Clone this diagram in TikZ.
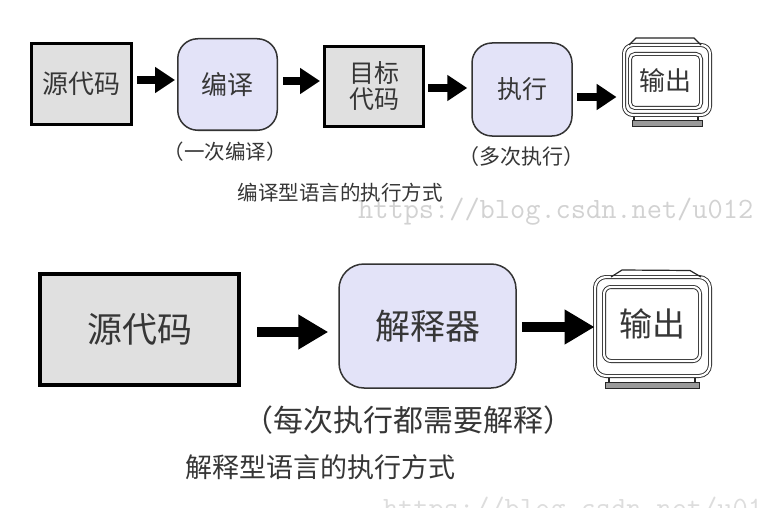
\documentclass[tikz,border=0pt]{standalone}
\usepackage{fontspec}
\setmainfont{Liberation Sans}
\newfontfamily\cjk{Noto Sans CJK SC}
\usetikzlibrary{arrows.meta}
\definecolor{boxgray}{HTML}{E0E0E0}
\definecolor{lav}{HTML}{E3E3F8}
\definecolor{txt}{HTML}{363636}
\definecolor{wmgray}{HTML}{D2D2D2}
\definecolor{basegray}{HTML}{9A9A9A}
\newcommand\fwlp{\makebox[1em][r]{（}}
\newcommand\fwrp{\makebox[1em][l]{）}}
\begin{document}
\begin{tikzpicture}[x=1pt,y=-1pt,
  sqbox/.style={draw=black, fill=boxgray, inner sep=0pt, text=txt},
  rbox/.style={draw=black!80, fill=lav, line width=1.5pt, rounded corners=20pt, inner sep=0pt, text=txt},
  casebox/.style={draw=black!85, double=white, line width=0.9pt, double distance=2.2pt, rounded corners=9pt, inner sep=0pt},
  screenbox/.style={draw=black!85, double=white, line width=0.9pt, double distance=2.2pt, rounded corners=5pt, inner sep=0pt, text=txt},
  monline/.style={draw=black!85, line width=1.2pt},
  plate/.style={draw=black!85, fill=basegray, line width=1pt},
  arrowsmall/.style={line width=8pt, -{Triangle[length=20pt,width=25pt]}},
  arrowbig/.style={line width=10pt, -{Triangle[length=30pt,width=33pt]}},
  fa/.style={font=\cjk\fontsize{#1}{#1}\selectfont},
  lbl/.style={text=txt, inner sep=0pt},
  wm/.style={font=\ttfamily\fontsize{29.5}{30}\selectfont, inner sep=0pt, anchor=base west}
]
\useasboundingbox (0,0) rectangle (757,508);
\fill[white] (0,0) rectangle (757,508);

% watermarks
\begin{scope}
\clip (0,0) rectangle (757,508);
\node[wm, text=wmgray] (wm1) at (358,218) {https://blog.csdn.net/u012};
\node[wm, text=wmgray!75] (wm2) at (383,517) {https://blog.csdn.net/u012};
\end{scope}

% ---------- top row ----------
\node[sqbox, line width=3pt, minimum width=100pt, minimum height=81pt, fa=26] (src1) at (81.5,84) {源代码};
\node[rbox, minimum width=99.5pt, minimum height=91.5pt, fa=26] (comp) at (227.5,84.5) {编译};
\node[sqbox, line width=3pt, minimum width=99pt, minimum height=80pt, fa=25, align=center] (obj) at (374,86.5) {目标\\[1pt]代码};
\node[rbox, minimum width=100pt, minimum height=93pt, fa=25] (exec) at (522,89.5) {执行};

% top monitor
\node[casebox, minimum width=86pt, minimum height=70pt] (case1) at (667,80) {};
\node[screenbox, minimum width=71pt, minimum height=54pt, fa=26] (out1) at (665.5,81) {输出};
\draw[monline] (629,45) -- (636,38) -- (694,38) -- (701,45);
\draw[monline] (634,117) -- (634,121);
\draw[monline] (698,117) -- (698,121);
\draw[plate] (632,121) rectangle (702,127);

\node[lbl, fa=20.5] (lab1) at (225,152) {\fwlp 一次编译\fwrp};
\node[lbl, fa=21] (lab2) at (521,157) {\fwlp 多次执行\fwrp};
\node[lbl, fa=20.5] (cap1) at (340,193) {编译型语言的执行方式};

\draw[arrowsmall, shorten <=4pt, shorten >=2pt] ([yshift=4pt]src1.east) -- ([yshift=4pt]src1.east -| comp.west);
\draw[arrowsmall, shorten <=5pt, shorten >=3pt] ([yshift=3.5pt]comp.east) -- ([yshift=3.5pt]comp.east -| obj.west);
\draw[arrowsmall, shorten <=3pt, shorten >=4pt] ([yshift=-1.5pt]obj.east) -- ([yshift=-1.5pt]obj.east -| exec.west);
\draw[arrowsmall, shorten <=4pt, shorten >=7pt] ([yshift=-7.5pt]exec.east) -- ([yshift=-7.5pt]exec.east -| case1.west);

% ---------- bottom row ----------
\node[sqbox, line width=4pt, minimum width=199pt, minimum height=111pt, fa=35] (src2) at (139.5,329.5) {源代码};
\node[rbox, rounded corners=25pt, minimum width=177pt, minimum height=124pt, fa=35] (interp) at (427.5,326) {解释器};

% bottom monitor
\node[casebox, rounded corners=11pt, minimum width=115pt, minimum height=99pt] (case2) at (652.5,326.5) {};
\node[screenbox, rounded corners=7pt, minimum width=96pt, minimum height=74pt, fa=33] (out2) at (652,324) {输出};
\draw[monline] (611,277) -- (622,270) -- (690,270.5) -- (701,277);
\draw[monline] (609,378) -- (609,382);
\draw[monline] (695,378) -- (695,382);
\draw[plate] (605,382) rectangle (699,388);

\node[lbl, fa=30] (lab3) at (408,420) {\fwlp 每次执行都需要解释\fwrp};
\node[lbl, fa=27] (cap2) at (320,467) {解释型语言的执行方式};

\draw[arrowbig, shorten <=16pt, shorten >=10pt] ([yshift=-2.5pt]src2.east) -- ([yshift=-2.5pt]src2.east -| interp.west);
\draw[arrowbig, shorten <=5pt, shorten >=0pt] ([yshift=-1pt]interp.east) -- ([yshift=-1pt]interp.east -| case2.west);
\end{tikzpicture}
\end{document}
